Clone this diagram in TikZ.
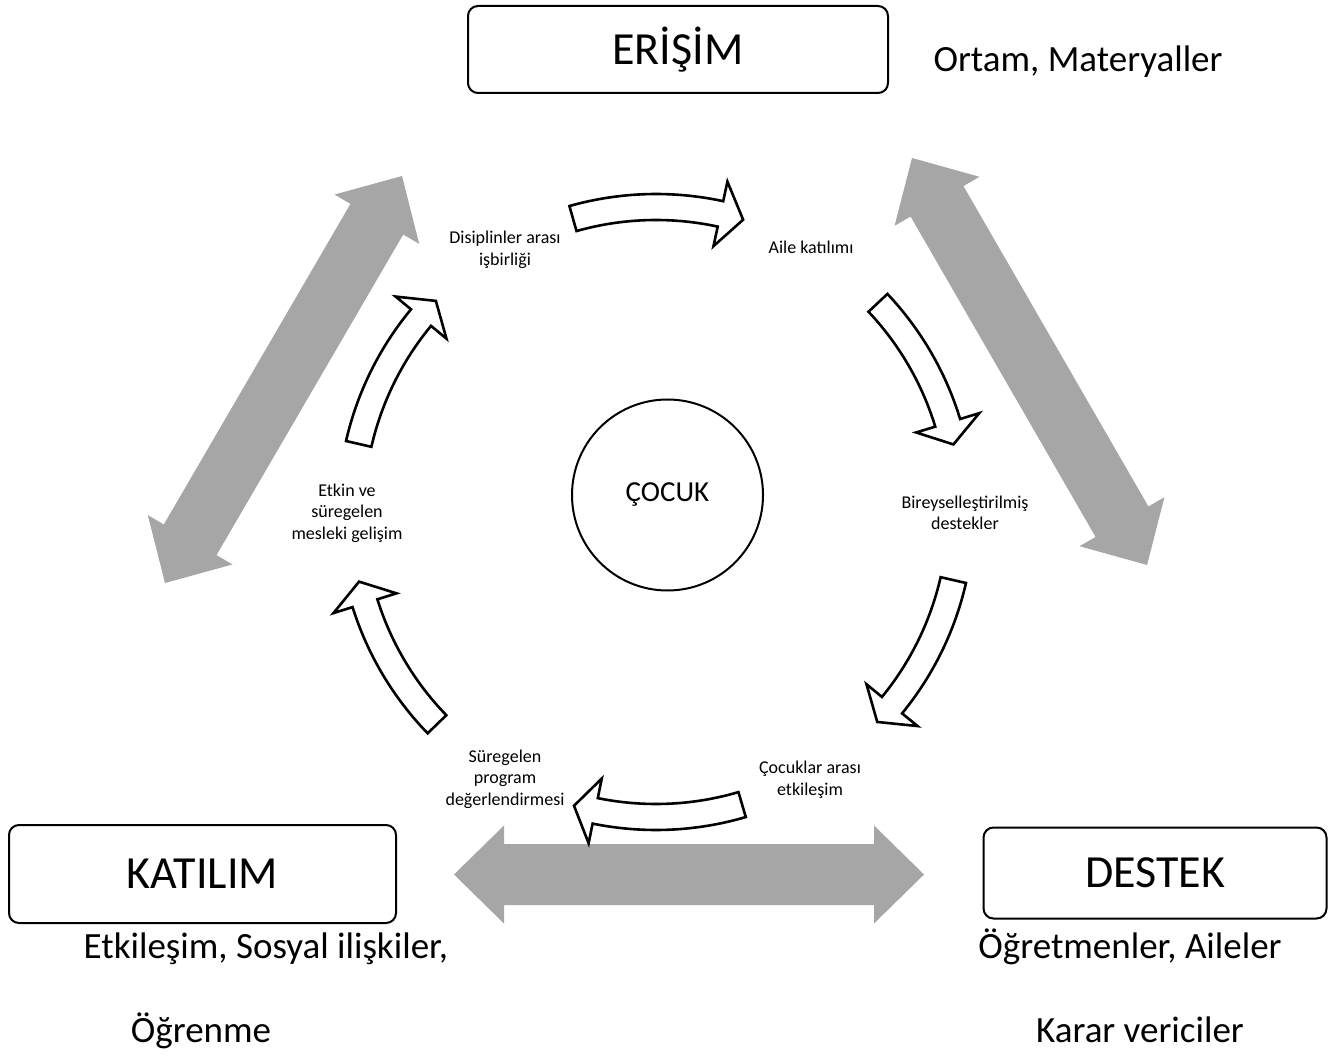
\documentclass[tikz,border=0pt]{standalone}
\usepackage{fontspec}
\setmainfont{Carlito}
\usetikzlibrary{calc}
\definecolor{arrowgray}{RGB}{166,166,166}
\newcommand{\ringarrow}[3]{%
  \draw[warrow] ($(C)+(#1:318)$) arc[start angle=#1, end angle=#2, radius=318]
   -- ($(C)+(#2:338)$) -- ($(C)+(#3:305)$) -- ($(C)+(#2:272)$) -- ($(C)+(#2:292)$)
   arc[start angle=#2, end angle=#1, radius=292] -- cycle;}
\newcommand{\grayarrow}[2]{%
  \coordinate (ga1) at ($(#1)!25pt!(#2)$);
  \coordinate (ga2) at ($(#2)!25pt!(#1)$);
  \fill[gfill] (#1) -- ($(ga1)!24.5pt!90:(#2)$) -- ($(ga1)!15.25pt!90:(#2)$)
    -- ($(ga2)!15.25pt!-90:(#1)$) -- ($(ga2)!24.5pt!-90:(#1)$) -- (#2)
    -- ($(ga2)!24.5pt!90:(#1)$) -- ($(ga2)!15.25pt!90:(#1)$)
    -- ($(ga1)!15.25pt!-90:(#2)$) -- ($(ga1)!24.5pt!-90:(#2)$) -- cycle;}
\begin{document}
\begin{tikzpicture}[x=0.5pt,y=-0.5pt,
  catbox/.style={draw, line width=1pt, rounded corners=5pt, inner sep=0pt, fill=white,
    font=\fontsize{23}{28}\selectfont},
  sidelabel/.style={font=\fontsize{18.5}{22}\selectfont, anchor=base, inner sep=0pt},
  small/.style={font=\fontsize{9}{10.8}\selectfont, align=center, inner sep=0pt},
  warrow/.style={draw=black, fill=white, line width=1.3pt, line join=miter},
  gfill/.style={fill=arrowgray}]
\useasboundingbox (0,0) rectangle (1336,1063);

% gray double arrows
\coordinate (gl1) at (402,176); \coordinate (gl2) at (165,583);
\coordinate (gr1) at (912,158); \coordinate (gr2) at (1147,565);
\coordinate (gb1) at (454,874.5); \coordinate (gb2) at (924,874.5);
\grayarrow{gl1}{gl2}
\grayarrow{gr1}{gr2}
\grayarrow{gb1}{gb2}

% category boxes
\node[catbox, minimum width=210pt, minimum height=43.5pt] (erisim) at (678,49.5) {ERİŞİM};
\node[catbox, minimum width=193.5pt, minimum height=49pt] (katilim) at (202.5,874) {KATILIM};
\node[catbox, minimum width=171.5pt, minimum height=45.5pt] (destek) at (1155,873) {DESTEK};

% side labels
\node[sidelabel] (ortam) at (1078,72) {Ortam, Materyaller};
\node[sidelabel] (etk) at (266,958) {Etkileşim, Sosyal ilişkiler,};
\node[sidelabel] (ogr) at (201,1042) {Öğrenme};
\node[sidelabel] (ogrt) at (1130,958) {Öğretmenler, Aileler};
\node[sidelabel] (karar) at (1140,1042) {Karar vericiler};

% ring of curved arrows
\coordinate (C) at (656,512);
\ringarrow{-105.8}{-77.8}{-73.4}
\ringarrow{-43.3}{-17.0}{-12.8}
\ringarrow{12.9}{39.3}{43.5}
\ringarrow{73.6}{101.5}{105.6}
\ringarrow{135.9}{162.6}{166.8}
\ringarrow{192.9}{219.6}{223.8}

% centre
\node[draw, circle, line width=1pt, minimum size=95.5pt, inner sep=0pt,
  font=\fontsize{14.5}{17}\selectfont] (cocuk) at (667.5,495) {ÇOCUK};

% small labels
\node[small] (dis) at (505,250) {Disiplinler arası\\işbirliği};
\node[small] (aile) at (811,247) {Aile katılımı};
\node[small] (bir) at (965,513) {Bireyselleştirilmiş\\destekler};
\node[small] (coc) at (810,780) {Çocuklar arası\\etkileşim};
\node[small] (sur) at (505,779) {Süregelen\\program\\değerlendirmesi};
\node[small] (etkin) at (347,513) {Etkin ve\\süregelen\\mesleki gelişim};
\end{tikzpicture}
\end{document}
